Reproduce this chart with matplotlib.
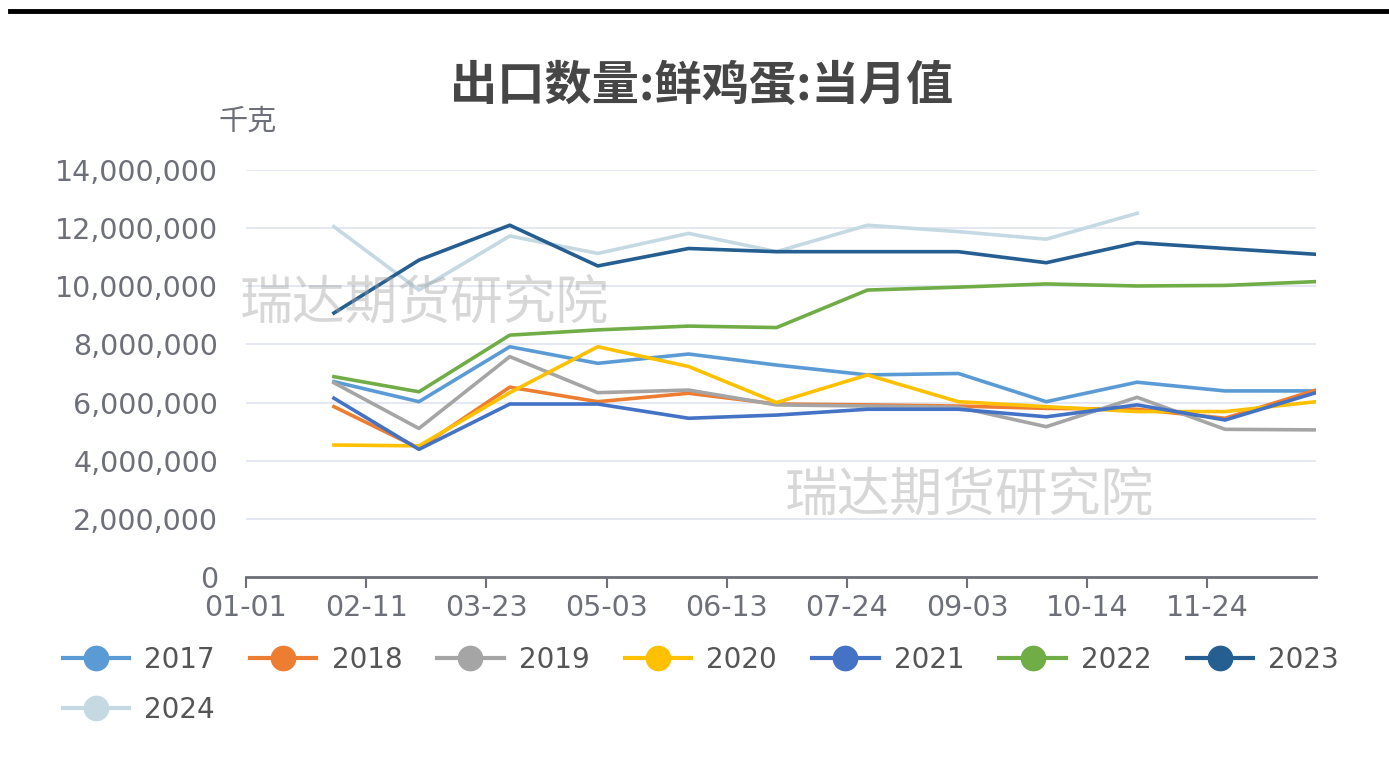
import numpy as np
import matplotlib.pyplot as plt
from matplotlib.lines import Line2D
import datetime as dt

plt.rcParams['font.family'] = ['DejaVu Sans', 'Noto Sans CJK SC']

# month-end days (offset from 01-01, leap-year calendar)
month_days = [30, 59, 90, 120, 151, 181, 212, 243, 273, 304, 334, 365]

years = ['2017', '2018', '2019', '2020', '2021', '2022', '2023', '2024']
colors = ['#5b9bd5', '#ed7d31', '#a5a5a5', '#ffc000', '#4472c4', '#70ad47', '#255e91', '#c5d9e3']

v2017 = [6.72, 6.03, 7.92, 7.35, 7.67, 7.29, 6.95, 7.00, 6.03, 6.70, 6.40, 6.40]
v2018 = [5.86, 4.43, 6.53, 6.03, 6.32, 5.95, 5.92, 5.88, 5.80, 5.77, 5.46, 6.43]
v2019 = [6.68, 5.11, 7.58, 6.34, 6.43, 5.92, 5.88, 5.84, 5.17, 6.18, 5.08, 5.06]
v2020 = [4.54, 4.51, 6.34, 7.92, 7.24, 6.00, 6.95, 6.03, 5.86, 5.69, 5.69, 6.03]
v2021 = [6.15, 4.39, 5.95, 5.95, 5.46, 5.57, 5.77, 5.77, 5.51, 5.92, 5.40, 6.34]
v2022 = [6.89, 6.37, 8.32, 8.50, 8.63, 8.58, 9.87, 9.97, 10.08, 10.01, 10.03, 10.16]
v2023 = [9.08, 10.90, 12.10, 10.70, 11.30, 11.19, 11.19, 11.19, 10.81, 11.50, 11.30, 11.10]
v2024 = [12.05, 9.87, 11.73, 11.13, 11.82, 11.19, 12.10, 11.88, 11.62, 12.51]

series = [v2017, v2018, v2019, v2020, v2021, v2022, v2023, v2024]
zorders = [3, 3, 3, 3, 3, 3, 4, 3]

fig = plt.figure(figsize=(13.89, 7.83), dpi=100)
ax = fig.add_axes([0.1771, 0.2631, 0.9474 - 0.1771, 0.7829 - 0.2631])

handles = []
for name, vals, c, z in zip(years, series, colors, zorders):
    y = np.array(vals) * 1e6
    ax.plot(month_days[:len(y)], y, color=c, lw=2.6, zorder=z, solid_joinstyle='round')
    handles.append(Line2D([], [], color=c, lw=3, marker='o', markersize=17.5,
                          markeredgecolor=c))

ax.set_xlim(0, 365)
ax.set_ylim(0, 14e6)

tick_days = np.arange(0, 365, 41)
base = dt.date(2024, 1, 1)
tick_labels = [(base + dt.timedelta(days=int(d))).strftime('%m-%d') for d in tick_days]
ax.set_xticks(tick_days)
ax.set_xticklabels(tick_labels)
ax.set_yticks(np.arange(0, 14e6 + 1, 2e6))
ax.set_yticklabels([f'{int(v):,}' for v in np.arange(0, 14e6 + 1, 2e6)])

ax.tick_params(axis='x', colors='#6e7079', length=8, width=1.5, labelsize=20.5,
               labelcolor='#6e7079', pad=4)
ax.tick_params(axis='y', length=0, labelsize=20.5, labelcolor='#6e7079', pad=20)

for s in ['top', 'right', 'left']:
    ax.spines[s].set_visible(False)
ax.spines['bottom'].set_color('#6e7079')
ax.spines['bottom'].set_linewidth(2)
ax.spines['bottom'].set_zorder(5)
ax.grid(axis='y', color='#e0e6f1', lw=1.3)
ax.set_axisbelow(True)

# watermarks
for wx, wy in [(-0.006, 0.67), (0.504, 0.2)]:
    ax.text(wx, wy, '瑞达期货研究院', transform=ax.transAxes, fontsize=38,
            family=['Noto Sans CJK SC'], color='#a0a0a0', alpha=0.42, zorder=6,
            va='center', ha='left')

fig.text(0.505, 0.89, '出口数量:鲜鸡蛋:当月值', fontsize=34, fontweight='heavy',
         family=['Noto Sans CJK SC'], color='#464646', ha='center', va='center')
fig.text(0.178, 0.845, '千克', fontsize=21, family=['Noto Sans CJK SC'],
         color='#6e7079', ha='center', va='center')

fig.add_artist(Line2D([0.007, 1.0], [0.986, 0.986], color='black', lw=3.5,
                      transform=fig.transFigure))

# legend in row-major order (2 rows x 7 columns)
order = [0, 7, 1, 2, 3, 4, 5, 6]
fig.legend([handles[i] for i in order], [years[i] for i in order],
           ncol=7, loc='upper left', bbox_to_anchor=(0.027, 0.207),
           frameon=False, fontsize=20, handlelength=2.4, handletextpad=0.55,
           columnspacing=1.25, labelspacing=0.8, labelcolor='#555555')

fig.savefig('out.png', dpi=100)
